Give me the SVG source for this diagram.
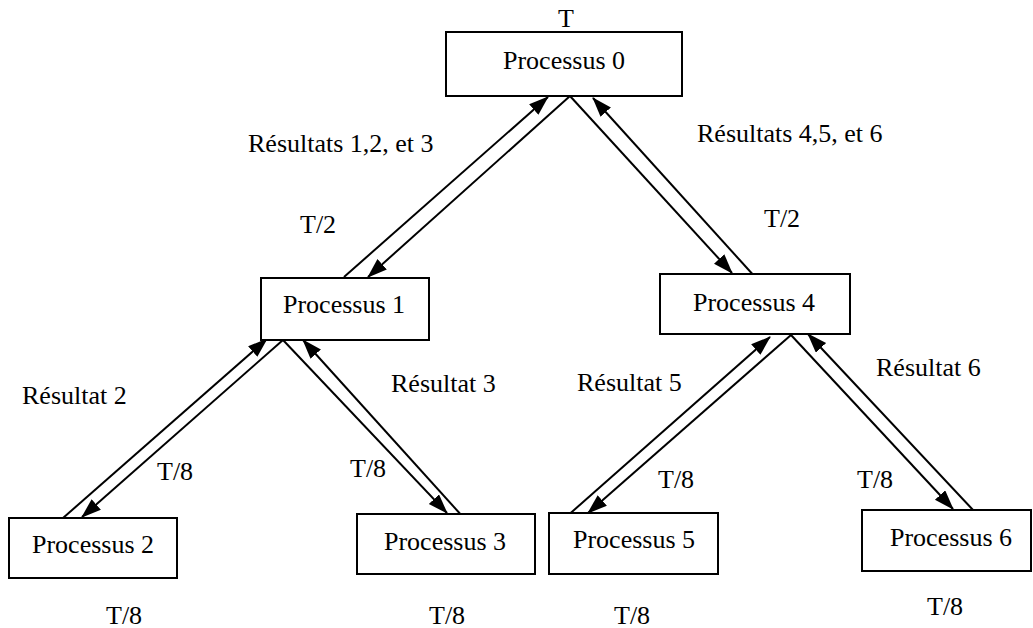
<svg xmlns="http://www.w3.org/2000/svg" width="1033" height="628" viewBox="0 0 1033 628">
<defs>
<style>
text { font-family: "Liberation Serif", "Times New Roman", serif; font-size: 26px; fill: #000; }
.box { fill: #fff; stroke: #000; stroke-width: 2; }
.ln { stroke: #000; stroke-width: 2; fill: none; }
.arr { marker-end: url(#ah); }
</style>
<marker id="ah" markerUnits="userSpaceOnUse" markerWidth="22" markerHeight="16" refX="19" refY="7" orient="auto">
<path d="M0,0 L20,7 L0,14 Z" fill="#000"/>
</marker>
</defs>
<rect width="1033" height="628" fill="#fff"/>

<g id="connectors">
<line class="ln arr" x1="344" y1="277" x2="548" y2="97"/>
<line class="ln arr" x1="570" y1="96" x2="368" y2="277"/>
<line class="ln arr" x1="570" y1="96" x2="732" y2="273"/>
<line class="ln arr" x1="756" y1="278" x2="593" y2="98"/>
<line class="ln arr" x1="63" y1="518" x2="267" y2="339"/>
<line class="ln arr" x1="283" y1="340" x2="82" y2="517"/>
<line class="ln arr" x1="283" y1="340" x2="447" y2="513"/>
<line class="ln arr" x1="463" y1="517" x2="303" y2="340"/>
<line class="ln arr" x1="565" y1="518" x2="770" y2="337"/>
<line class="ln arr" x1="791" y1="335" x2="588" y2="513"/>
<line class="ln arr" x1="791" y1="335" x2="953" y2="509"/>
<line class="ln arr" x1="973" y1="510" x2="808" y2="334"/>
</g>

<g id="node0">
<rect class="box" x="446" y="32" width="236" height="64"/>
<text x="564" y="69" text-anchor="middle">Processus 0</text>
</g>
<g id="node1">
<rect class="box" x="261" y="278" width="168" height="62"/>
<text x="344" y="313" text-anchor="middle">Processus 1</text>
</g>
<g id="node2">
<rect class="box" x="9" y="518" width="168" height="60"/>
<text x="93" y="553" text-anchor="middle">Processus 2</text>
</g>
<g id="node3">
<rect class="box" x="357" y="514" width="178" height="60"/>
<text x="445" y="550" text-anchor="middle">Processus 3</text>
</g>
<g id="node4">
<rect class="box" x="660" y="274" width="190" height="60"/>
<text x="754" y="311" text-anchor="middle">Processus 4</text>
</g>
<g id="node5">
<rect class="box" x="549" y="513" width="169" height="61"/>
<text x="634" y="548" text-anchor="middle">Processus 5</text>
</g>
<g id="node6">
<rect class="box" x="862" y="510" width="169" height="61"/>
<text x="951" y="546" text-anchor="middle">Processus 6</text>
</g>

<g id="labels">
<text x="566" y="27" text-anchor="middle">T</text>
<text x="248" y="152">Résultats 1,2, et 3</text>
<text x="697" y="142">Résultats 4,5, et 6</text>
<text x="300" y="233">T/2</text>
<text x="764" y="227">T/2</text>
<text x="22" y="404">Résultat 2</text>
<text x="391" y="392">Résultat 3</text>
<text x="577" y="391">Résultat 5</text>
<text x="876" y="376">Résultat 6</text>
<text x="157" y="480">T/8</text>
<text x="350" y="477">T/8</text>
<text x="658" y="488">T/8</text>
<text x="857" y="488">T/8</text>
<text x="106" y="624">T/8</text>
<text x="429" y="624">T/8</text>
<text x="614" y="624">T/8</text>
<text x="927" y="615">T/8</text>
</g>
</svg>
